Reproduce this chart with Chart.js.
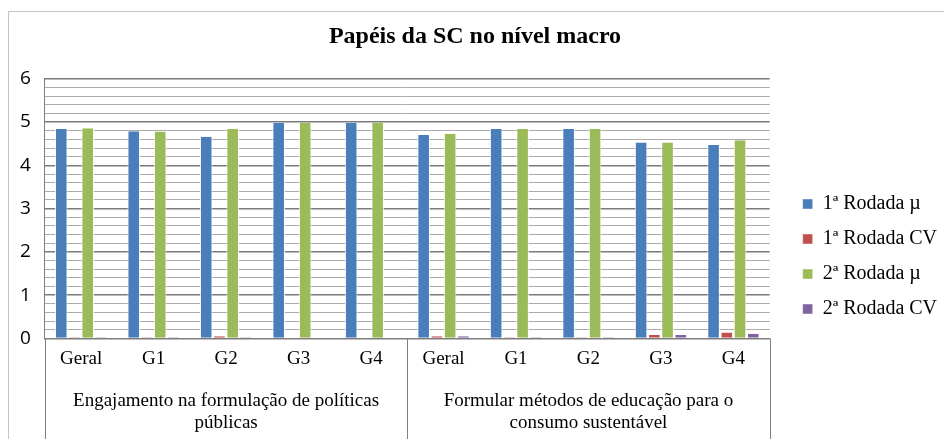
<!DOCTYPE html>
<html>
<head>
<meta charset="utf-8">
<script src="https://cdn.jsdelivr.net/npm/chart.js@4/dist/chart.umd.min.js"></script>
<style>
html,body{margin:0;padding:0;background:#fff;}
#wrap{position:relative;width:944px;height:439px;overflow:hidden;}
#frame{position:absolute;left:8px;top:11px;width:960px;height:460px;border-top:1.5px solid #c4c4c4;border-left:1.5px solid #c4c4c4;pointer-events:none;}
canvas{position:absolute;left:0;top:0;}
</style>
</head>
<body>
<div id="wrap">
<canvas id="c" width="944" height="439"></canvas>
<div id="frame"></div>
</div>
<script>
const categories = ['Geral','G1','G2','G3','G4','Geral','G1','G2','G3','G4'];
const groupLabels = [['Engajamento na formulação de políticas','públicas'],['Formular métodos de educação para o','consumo sustentável']];
const seriesNames = ['1ª Rodada µ','1ª Rodada CV','2ª Rodada µ','2ª Rodada CV'];
const r1Mean = [4.84,4.79,4.66,4.98,4.98,4.70,4.84,4.84,4.53,4.47];
const r1CV   = [0.03,0.03,0.05,0.00,0.00,0.05,0.03,0.03,0.08,0.14];
const r2Mean = [4.86,4.78,4.84,4.98,4.98,4.73,4.84,4.84,4.53,4.58];
const r2CV   = [0.03,0.03,0.03,0.00,0.00,0.05,0.03,0.03,0.08,0.11];
const yTicks = [0,1,2,3,4,5,6];

const colors = ['#4a7ebb','#c0504d','#9bbb59','#8064a2'];
const serif = '"Liberation Serif", "DejaVu Serif", serif';

const separators = {
  id:'separators',
  afterDraw(chart){
    const x = chart.scales.x, ctx = chart.ctx, ca = chart.chartArea;
    const mid = (x.getPixelForValue(4) + x.getPixelForValue(5))/2;
    ctx.save();
    ctx.strokeStyle = '#7f7f7f';
    ctx.lineWidth = 1;
    [x.left, mid, x.right].forEach(px=>{
      ctx.beginPath();
      ctx.moveTo(Math.round(px)+0.5, ca.bottom);
      ctx.lineTo(Math.round(px)+0.5, chart.height);
      ctx.stroke();
    });
    ctx.restore();
  }
};

const isInt = v => Math.abs(v - Math.round(v)) < 1e-6;

new Chart(document.getElementById('c'), {
  type:'bar',
  data:{
    labels: categories,
    datasets:[r1Mean,r1CV,r2Mean,r2CV].map((d,i)=>({
      label: seriesNames[i],
      data: d,
      backgroundColor: colors[i],
      borderColor: 'rgba(255,255,255,0.85)',
      borderWidth: {left:1,right:1,top:0,bottom:0},
      categoryPercentage: 0.73,
      barPercentage: 0.95
    }))
  },
  options:{
    responsive:false,
    animation:false,
    layout:{padding:{left:6,right:0,top:0,bottom:-6}},
    plugins:{
      title:{display:true,text:'Papéis da SC no nível macro',
        font:{family:serif,size:24,weight:'bold'},color:'#000',
        padding:{top:22,bottom:28}},
      legend:{position:'right',align:'center',
        title:{display:true,text:' ',font:{size:10},padding:{top:0,bottom:56}},
        labels:{boxWidth:10,boxHeight:10,padding:15,color:'#000',
          font:{family:serif,size:20}}},
      tooltip:{enabled:false}
    },
    scales:{
      x:{
        grid:{display:false},
        border:{display:true,color:'#7f7f7f'},
        ticks:{color:'#000',font:{family:serif,size:19},padding:1,autoSkip:false,maxRotation:0}
      },
      x2:{
        type:'category',
        labels: groupLabels,
        grid:{display:false},
        border:{display:false},
        ticks:{color:'#000',font:{family:serif,size:19,lineHeight:1.15},padding:11,maxRotation:0,autoSkip:false}
      },
      y:{
        min:0,max:6,
        ticks:{stepSize:0.2,autoSkip:false,color:'#000',font:{family:'"Open Sans", sans-serif',size:19},padding:14,
          callback:(v)=> isInt(v) && yTicks.includes(Math.round(v)) ? String(Math.round(v)) : ''},
        grid:{
          color:(c)=> isInt(c.tick.value) ? '#7a7a7a' : '#ababab',
          lineWidth:(c)=> isInt(c.tick.value) ? 1.5 : 1,
          drawTicks:false
        },
        border:{display:true,color:'#7f7f7f'}
      },
      ySpacer:{
        position:'right',
        display:true,
        grid:{display:false},
        border:{display:false},
        ticks:{display:false},
        afterFit:(s)=>{ s.width = 18; }
      }
    }
  },
  plugins:[separators]
});
</script>
</body>
</html>
